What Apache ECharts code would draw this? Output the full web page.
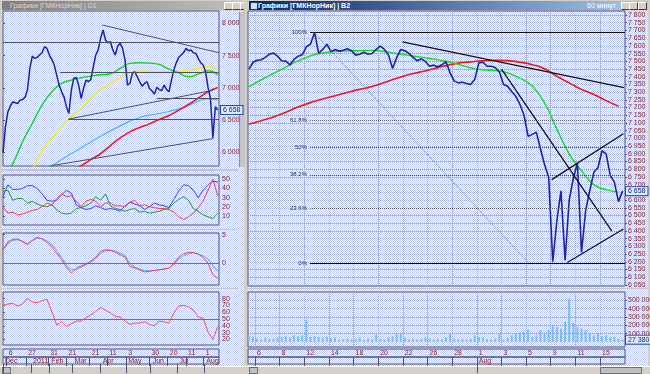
<!DOCTYPE html>
<html><head><meta charset="utf-8">
<script src="https://cdn.jsdelivr.net/npm/echarts@6/dist/echarts.min.js"></script>
<style>
html,body{margin:0;padding:0;width:650px;height:374px;overflow:hidden;background:#d4d0c8;font-family:"Liberation Sans",Arial,sans-serif;}
.pane{position:absolute;background-image:repeating-conic-gradient(#bfcaf0 0% 25%, #fbfcff 0% 50%);background-size:2px 2px;}
.abs{position:absolute;}
.tbar{position:absolute;height:9px;font-size:7px;line-height:9px;white-space:nowrap;overflow:hidden;}
.btn{position:absolute;top:1px;width:7px;height:6px;background:#d4d0c8;border:1px solid;border-color:#fff #404040 #404040 #fff;}
.split{position:absolute;background:#c8c8cc;}
.sb{position:absolute;background:#d4d0c8;border-top:1px solid #fff;}
#chart{position:absolute;left:0;top:0;width:650px;height:374px;}
</style></head><body>
<div class="pane" style="left:2px;top:11px;width:242px;height:355px"></div>
<div class="pane" style="left:248px;top:11px;width:400px;height:355px"></div>
<div class="tbar" style="left:2px;top:1px;width:242px;background:linear-gradient(90deg,#808080,#c0c0c0);color:#d8d8d8;padding-left:8px;box-sizing:border-box">Графики [ГМКНорНик] | D1
  <div class="btn" style="left:222px"></div><div class="btn" style="left:230px"></div><div class="btn" style="left:238px;width:6px"></div></div>
<div class="tbar" style="left:249px;top:1px;width:399px;background:linear-gradient(90deg,#0a246a,#a6caf0);color:#fff;font-weight:bold;padding-left:9px;box-sizing:border-box">Графики [ГМКНорНик] | В2
  <span class="abs" style="left:338px;top:0;font-weight:normal">60 минут</span>
  <div class="btn" style="left:372px"></div><div class="btn" style="left:380px"></div><div class="btn" style="left:389px"></div></div>
<div class="abs" style="left:250px;top:2px;width:6px;height:6px;background:#d0e0ff;border:1px solid #203080"></div>
<div class="split" style="left:2px;top:169px;width:236px;height:2px"></div>
<div class="split" style="left:2px;top:229px;width:236px;height:1px"></div>
<div class="split" style="left:2px;top:288px;width:236px;height:1px"></div>
<div class="split" style="left:248px;top:288px;width:400px;height:1px"></div>
<div class="abs" style="left:239px;top:12px;width:5px;height:155px;background:#c4c4c8;border-left:1px solid #909090"></div>
<div class="sb" style="left:0;top:366px;width:246px;height:7px"></div>
<div class="sb" style="left:247px;top:366px;width:403px;height:7px"></div>
<div class="abs" style="left:2px;top:367px;width:7px;height:5px;background:#c0c0c0;border:1px solid #707070"></div>
<div class="abs" style="left:249px;top:367px;width:7px;height:5px;background:#c0c0c0;border:1px solid #707070"></div>
<div class="abs" style="left:600px;top:367px;width:40px;height:5px;background:#c0c0c0;border:1px solid #707070"></div>
<div id="chart"></div>
<script>
// ---------------- LEFT (daily) ----------------
// x = trading-day index (0..177)
const leftDayIdx    = [3, 19, 37, 52, 71, 85.5, 101, 120, 135, 150, 164.5];
const leftDayLabels = ['6','27','31','21','21','11','3','30','20','11','1'];
const leftMonIdx    = [0, 23, 38, 57, 80, 101, 121, 143, 165];
const leftMonLabels = ['Dec','2011','Feb','Mar','Apr','May','Jun','Jul','Aug'];
// close every 2 trading days
const leftClose = [6000,6398,6630,6718,6786,6770,6760,6811,6822,6853,
  6966,7302,7494,7457,7473,7509,7545,7638,7612,7509,
  7442,7354,7199,7044,6940,6863,6708,6605,6966,7147,
  7163,7044,6837,6992,7121,7096,7132,7328,7509,7587,
  7767,7897,7742,7700,7716,7587,7509,7649,7690,7612,
  7431,7044,7070,7225,7251,7173,7096,7028,7070,7096,
  6992,6956,6904,7008,6977,6956,7044,6977,6940,7121,
  7276,7390,7473,7509,7545,7612,7576,7587,7545,7535,
  7457,7390,7354,7251,7008,6837,6230,6708,6658];
// moving averages every 8 trading days
const leftMaGreen  = [5600,5829,6165,6450,6734,6941,7070,7121,7158,7183,7204,7220,7302,7380,7390,7385,7364,7292,7235,7173,7214,7266,7204];
const leftMaYellow = [null,null,null,5726,6036,6217,6398,6553,6682,6837,6977,7059,7163,7235,7261,7256,7251,7251,7256,7276,7302,7328,7292];
const leftMaSky    = [null,null,null,null,5700,5793,5891,5985,6072,6165,6253,6336,6413,6486,6543,6579,6605,6636,6677,6729,6796,6832,6811];
const leftMaRed    = [null,null,null,null,null,null,null,5700,5793,5891,5985,6109,6227,6320,6388,6444,6512,6574,6656,6744,6842,6941,7008];
// trend lines [x1,y1,x2,y2]
const leftTrend = [[0,7705,177,7705],[81.4,7974,177,7545],[46.7,7245,177,7245],[53.6,6517,172.4,6966],
  [126,6837,177,6837],[53.6,6517,177,6517],[38.5,5793,172.4,6217]];
const leftPriceTicks = [6000,6500,7000,7500,8000];
const leftLast = 6658;
// indicators every 4 trading days
const dmiBlue  = [31,44,39,39,40,43,43,40,34,27,26,27,33,38,35,22,19,17,18,21,19,17,18,17,15,21,25,23,21,17,20,24,22,21,19,28,37,44,43,38,30,38,44,48,47];
const dmiRed   = [20,13,14,11,12,14,16,17,20,24,22,29,34,31,32,26,20,26,28,26,20,24,24,21,21,20,25,27,21,22,20,19,18,18,17,14,9,6,9,13,19,26,38,50,32];
const dmiGreen = [37,38,27,29,29,24,26,23,21,20,22,17,13,12,13,18,19,21,24,31,27,34,21,18,17,15,17,18,14,15,13,14,15,17,18,24,28,31,27,18,15,11,9,7,13];
const dmiTicks = [10,20,30,40,50];
const macdRed  = [2.35,3.76,4.18,4.24,3.82,3.24,4.0,4.53,4.24,3.65,2.82,1.76,0.59,-0.7,-1.76,-0.94,-0.47,-0.12,0.35,1.06,2.06,2.35,2.24,1.94,1.47,1.06,-0.59,-0.82,-1.18,-1.53,-1.41,-1.29,-1.18,-1.0,-0.88,0,1.06,1.65,1.88,1.88,1.59,1.06,0,-2.06,-2.65];
const macdBlue = [2.35,3.41,4.0,4.12,3.82,3.41,3.94,4.41,4.29,3.94,3.24,2.24,1.06,-0.29,-1.18,-1.06,-0.71,-0.29,0.18,0.88,1.65,2.24,2.29,2.12,1.76,1.41,-0.12,-0.71,-1.06,-1.29,-1.35,-1.29,-1.18,-1.06,-0.88,-0.18,0.71,1.29,1.65,1.82,1.59,1.29,0.71,-0.47,-1.47];
const macdTicks = [0,5];
const rsi = [70,72,73,69,72,80,75,74,77,79,61,41,46,39,43,47,47,52,56,61,67,63,59,54,53,47,42,44,44,46,42,40,47,46,44,59,69,70,68,63,53,51,31,20,39];
const rsiTicks = [20,30,40,50,60,70,80];

// ---------------- RIGHT (60 min) ----------------
// x = trading day number (Jul 5 = 0), 3 samples per day from 0.5
const rightDayTicks  = [1,3,5,7,9,11,13,15,17,19,21,23,25,27,29];
const rightDayLabels = ['6','8','12','14','18','20','22','26','28','1','3','5','9','11','15'];
const rightMonTicks  = [19];
const rightMonLabels = ['Aug'];
const rightClose = [7447,7492,7507,7510,7525,7546,7553,7533,7503,7501,
  7477,7512,7533,7542,7594,7611,7687,7551,7577,7611,
  7562,7577,7566,7572,7581,7568,7540,7546,7559,7546,
  7551,7577,7598,7577,7540,7453,7525,7577,7568,7551,
  7525,7503,7516,7499,7468,7475,7464,7477,7497,7425,
  7373,7360,7364,7356,7349,7382,7490,7494,7468,7468,
  7460,7431,7351,7338,7304,7273,7221,7150,7013,7026,
  7041,6933,6831,6750,6200,6466,6660,6210,6600,6740,
  6840,6260,6530,6660,6780,6810,6920,6900,6760,6716,
  6590,6658];
const rightMaGreen = [7335,7380,7421,7462,7502,7535,7554,7563,7567,7569,7571,7563,7550,7538,7527,7514,7500,7480,7458,7444,7440,7425,7390,7340,7230,7060,6900,6790,6700,6668,6652];
const rightMaRed   = [7092,7115,7139,7170,7203,7232,7255,7277,7298,7318,7336,7362,7390,7414,7432,7452,7472,7488,7496,7503,7507,7504,7494,7478,7452,7403,7360,7318,7285,7245,7208];
const rightTrend = [[12.96,7626,30.95,7329],[21.02,7447,29.95,6401],[26.35,6195,30.9,6413],[25.08,6733,30.9,7030]];
const fibHigh = 7687, fibLow = 6193, fibStart = 5.46, fibPeakX = 5.78, fibLowX = 23.19;
const fibRatios = [1, 0.618, 0.5, 0.382, 0.236, 0];
const fibLabels = ['100%','61.8%','50%','38.2%','23.6%','0%'];
const rightPriceTicks = [6050,6100,6150,6200,6250,6300,6350,6400,6450,6500,6550,6600,6650,6700,6750,6800,6850,6900,6950,7000,
  7050,7100,7150,7200,7250,7300,7350,7400,7450,7500,7550,7600,7650,7700,7750,7800];
const rightLast = 6658;
const volume = [80000,60000,40000,28000,52000,36000,40000,52000,60000,68000,
  52000,80000,68000,80000,268000,60000,68000,60000,52000,60000,
  40000,52000,28000,36000,40000,28000,36000,52000,28000,40000,
  28000,88000,36000,28000,52000,68000,92000,100000,52000,28000,
  36000,28000,36000,52000,40000,28000,36000,28000,52000,100000,
  40000,28000,36000,28000,36000,80000,60000,52000,36000,28000,
  40000,100000,28000,52000,80000,100000,108000,120000,148000,60000,
  80000,140000,100000,140000,200000,180000,160000,240000,520000,228000,
  180000,160000,140000,100000,80000,108000,68000,80000,52000,60000,
  36000,27380];
const volTicks = [100000,200000,300000,400000,500000];

// ---------------- chart ----------------
const FONT = 'Liberation Sans';
const LAB = '#8e2020';
const BORDER = '#50507a';
const GRIDC = '#93a2d8';
const fmt = v => String(Math.round(v)).replace(/\B(?=(\d{3})+(?!\d))/g, ' ');
const R_MIN = 0.43, R_MAX = 31.03, L_MIN = 0, L_MAX = 177;

function grid(l,t,w,h){return {left:l,top:t,width:w,height:h,show:true,borderColor:BORDER,borderWidth:1,backgroundColor:'transparent',containLabel:false,outerBoundsMode:'none'};}
function hx(gi,min,max,ticks,split){
  return {type:'value',gridIndex:gi,min:min,max:max,axisLine:{show:false},
    axisTick:{show:false,customValues:ticks||undefined},axisLabel:{show:false},
    splitLine:{show:!!split,lineStyle:{color:GRIDC,type:'dotted',width:1}}};
}
function dateX(gi,min,max,ticks,labels){
  return {type:'value',gridIndex:gi,min:min,max:max,position:'top',axisLine:{show:false},
    axisTick:{show:true,inside:true,length:9,customValues:ticks,lineStyle:{color:BORDER,width:1}},
    axisLabel:{show:true,inside:true,customValues:ticks,margin:1,align:'left',verticalAlign:'top',padding:[0,0,0,2],
      fontSize:7,fontFamily:FONT,color:LAB,formatter:v=>{const i=ticks.indexOf(v);return i>=0?labels[i]:'';}},
    splitLine:{show:false}};
}
function ry(gi,min,max,ticks,split,fmtFn){
  return {type:'value',gridIndex:gi,position:'right',min:min,max:max,axisLine:{show:false},
    axisTick:{show:true,length:2,customValues:ticks,lineStyle:{color:BORDER}},
    axisLabel:{show:true,customValues:ticks,margin:3,fontSize:7,fontFamily:FONT,color:LAB,formatter:fmtFn||(v=>fmt(v))},
    splitLine:{show:!!split,lineStyle:{color:GRIDC,type:'dotted',width:1}}};
}
function hiddenY(gi){return {type:'value',gridIndex:gi,show:false,min:0,max:1};}
function seg(arr,style,extra){return arr.map(a=>[Object.assign({coord:[a[0],a[1]],lineStyle:style},extra||{}),{coord:[a[2],a[3]]}]);}
function ln(xi,data,color,w,smooth,z){return {type:'line',xAxisIndex:xi,yAxisIndex:xi,data:data,showSymbol:false,symbol:'none',smooth:!!smooth,
  lineStyle:{color:color,width:w},itemStyle:{color:color},z:z||2,silent:true,clip:true};}
const step = (arr,st,off) => arr.map((v,i)=>v==null?null:[off+i*st,v]).filter(p=>p);

const fibLines = fibRatios.map((r,i)=>{
  const y = fibLow + r*(fibHigh-fibLow);
  const solid = (r===1||r===0);
  return [{coord:[fibStart,y],lineStyle:{color:solid?'#101010':'#505050',width:1,type:solid?'solid':'dotted'},
    label:{show:true,position:'start',formatter:fibLabels[i],fontSize:6,fontFamily:FONT,color:'#303030',distance:3}},{coord:[R_MAX,y]}];
});

const option = {
  animation:false,
  grid:[grid(3,11,216,155),grid(3,175,216,50),grid(3,233,216,52),grid(3,292,216,53),grid(3,349,216,8),grid(3,357,216,7),
        grid(248,11,377,275),grid(248,292,377,55),grid(248,349,377,8),grid(248,357,377,7)],
  xAxis:[hx(0,L_MIN,L_MAX),hx(1,L_MIN,L_MAX),hx(2,L_MIN,L_MAX),hx(3,L_MIN,L_MAX),
    dateX(4,L_MIN,L_MAX,leftDayIdx,leftDayLabels),dateX(5,L_MIN,L_MAX,leftMonIdx,leftMonLabels),
    hx(6,R_MIN,R_MAX,rightDayTicks,true),hx(7,R_MIN,R_MAX,rightDayTicks,true),
    dateX(8,R_MIN,R_MAX,rightDayTicks,rightDayLabels),dateX(9,R_MIN,R_MAX,rightMonTicks,rightMonLabels)],
  yAxis:[ry(0,5792,8191,leftPriceTicks,false),ry(1,0,54.7,dmiTicks,false),ry(2,-3.83,5.3,macdTicks,false),ry(3,11.8,89.7,rsiTicks,false),
    hiddenY(4),hiddenY(5),ry(6,6043,7826,rightPriceTicks,true),ry(7,-61000,600000,volTicks,true),hiddenY(8),hiddenY(9)],
  series:[
    // left price panel
    ln(0,step(leftMaSky,8,0),'#4ab4ff',1.2,true),
    ln(0,step(leftMaYellow,8,0),'#f4f000',1.4,true),
    ln(0,step(leftMaGreen,8,0),'#10d810',1.4,true),
    ln(0,step(leftMaRed,8,0),'#f01818',1.6,true),
    Object.assign(ln(0,step(leftClose,2,0),'#1e22a6',1.5,false,4),{
      markLine:{silent:true,symbol:['none','none'],animation:false,label:{show:false},
        data:seg(leftTrend,{color:'#505058',width:1,type:'solid'})}}),
    // DMI
    ln(1,step(dmiBlue,4,0),'#3c3cff',1),
    ln(1,step(dmiGreen,4,0),'#1e9a1e',1),
    ln(1,step(dmiRed,4,0),'#ff3a3a',1),
    // MACD
    Object.assign(ln(2,step(macdBlue,4,0),'#4aa8ff',1),{markLine:{silent:true,symbol:['none','none'],label:{show:false},
      lineStyle:{color:'#6a6aa0',width:1,type:'solid'},data:[{yAxis:0}]}}),
    ln(2,step(macdRed,4,0),'#ff4040',1),
    // RSI
    Object.assign(ln(3,step(rsi,4,0),'#ff4848',1),{markLine:{silent:true,symbol:['none','none'],label:{show:false},
      lineStyle:{color:'#6a6aa0',width:1,type:'solid'},data:[{yAxis:50}]}}),
    // right price
    ln(6,step(rightMaRed,1,0.5),'#f01818',1.6,true,3),
    ln(6,step(rightMaGreen,1,0.5),'#10e010',1.4,true,3),
    Object.assign(ln(6,step(rightClose,1/3,0.5),'#1e22a6',1.6,false,4),{
      markLine:{silent:true,symbol:['none','none'],animation:false,label:{show:false},
        data:[...fibLines,
          [{coord:[fibPeakX,fibHigh],lineStyle:{color:'#707070',width:1,type:'dotted'}},{coord:[fibLowX,fibLow]}],
          ...seg(rightTrend,{color:'#101010',width:1.3,type:'solid'})]}}),
    // volume
    {type:'bar',xAxisIndex:7,yAxisIndex:7,data:step(volume,1/3,0.5),barWidth:2,itemStyle:{color:'#76bdf2'},silent:true}
  ]
};
const chart = echarts.init(document.getElementById('chart'),null,{renderer:'canvas'});
chart.setOption(option);

function box(x,y,text){
  return {type:'text',x:x,y:y,z:100,style:{text:text,font:'7px "Liberation Sans"',fill:'#1a2a70',
    backgroundColor:'#dbe9ff',borderColor:'#2a48a8',borderWidth:1,padding:[1,2,0,2],verticalAlign:'middle',align:'left'}};
}
const yL = chart.convertToPixel({yAxisIndex:0}, leftLast);
const yR = chart.convertToPixel({yAxisIndex:6}, rightLast);
const yV = chart.convertToPixel({yAxisIndex:7}, volume[volume.length-1]);
chart.setOption({graphic:[box(221,yL,fmt(leftLast)),box(626,yR,fmt(rightLast)),box(626,yV,fmt(volume[volume.length-1]))]});
</script>
</body></html>
